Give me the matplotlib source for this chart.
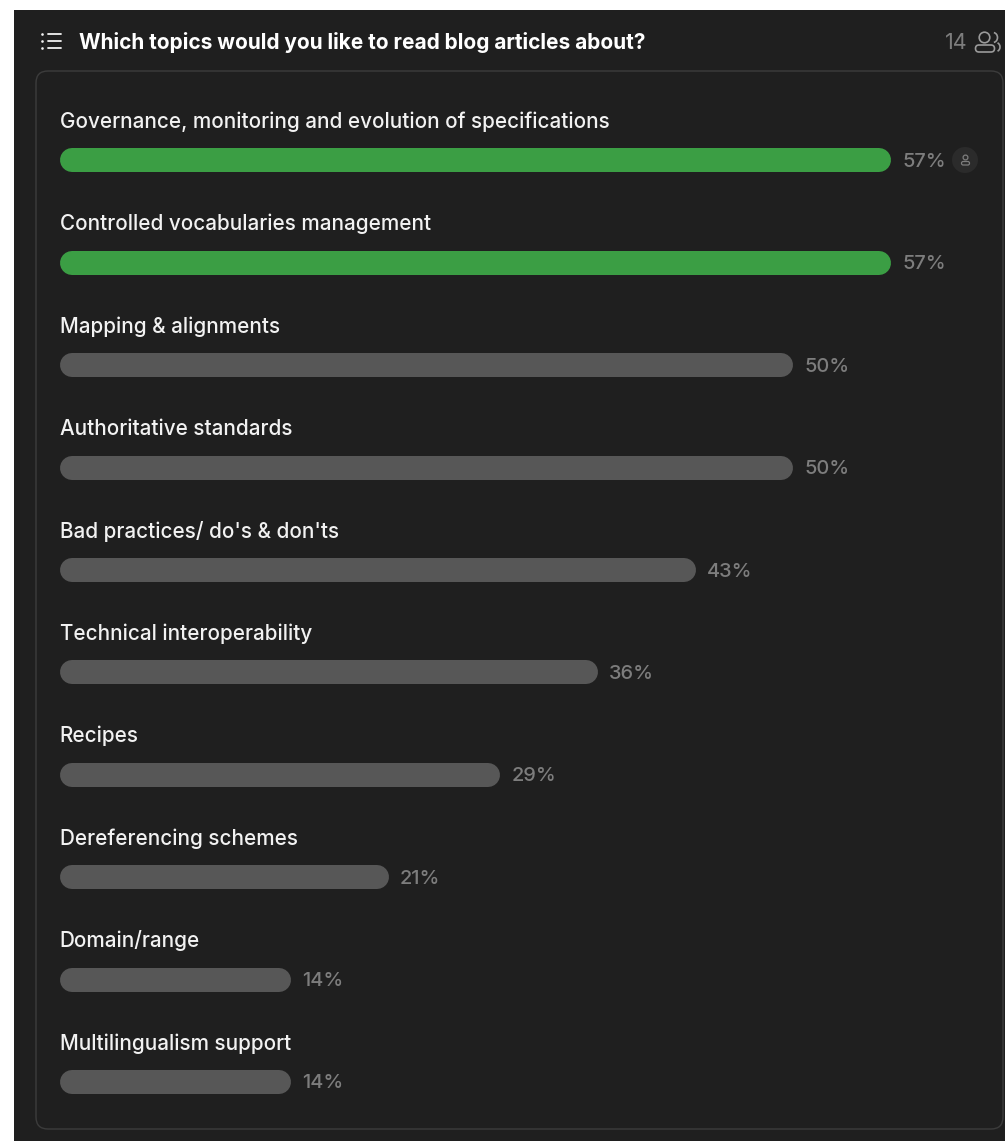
import matplotlib
matplotlib.use("Agg")
import matplotlib.pyplot as plt
from matplotlib.patches import Rectangle, FancyBboxPatch, Circle, Arc

plt.rcParams['font.family'] = ['Inter', 'DejaVu Sans']

title = "Which topics would you like to read blog articles about?"
topics = ["Governance, monitoring and evolution of specifications",
          "Controlled vocabularies management",
          "Mapping & alignments",
          "Authoritative standards",
          "Bad practices/ do's & don'ts",
          "Technical interoperability",
          "Recipes",
          "Dereferencing schemes",
          "Domain/range",
          "Multilingualism support"]
percent = [57, 57, 50, 50, 43, 36, 29, 21, 14, 14]
winners = [True, True, False, False, False, False, False, False, False, False]
responses = 14

BG = "#1f1f1f"
GREEN = "#3b9e44"
GREY = "#575757"
BORDER = "#3c3c3c"
TEXT = "#f2f2f2"
MUTED = "#7d7d7d"
ICON = "#9a9a9a"

W, H = 1005, 1141
fig = plt.figure(figsize=(W / 100, H / 100), dpi=100, facecolor="white")

# back layer works in image pixels, y going down
bg = fig.add_axes([0, 0, 1, 1])
bg.set_xlim(0, W)
bg.set_ylim(H, 0)
bg.axis("off")
bg.add_patch(Rectangle((14, 10), W - 14, H - 10, fc=BG, ec="none"))
bg.add_patch(FancyBboxPatch((36, 71), 967, 1058, boxstyle="round,pad=0,rounding_size=12",
                            fc=BG, ec=BORDER, lw=1))

# list icon
for y in [34, 41, 48]:
    bg.plot([47.5, 61], [y, y], color=TEXT, lw=1.3, solid_capstyle="round")
    bg.plot([41.5], [y], "o", color=TEXT, ms=1.9, mew=0)

bg.text(79, 40.5, title, color="#ffffff", fontsize=15.0, fontweight="bold", va="center_baseline")
bg.text(944.5, 41, str(responses), color=MUTED, fontsize=15.5, va="center_baseline")

# people icon, top right
bg.add_patch(Circle((984.5, 37.5), 5.3, fc="none", ec=ICON, lw=1.2))
bg.add_patch(FancyBboxPatch((975.5, 45), 19, 7, boxstyle="round,pad=0,rounding_size=3.5",
                            fc="none", ec=ICON, lw=1.2))
bg.add_patch(Arc((993, 37.5), 9, 10, theta1=-80, theta2=80, ec=ICON, lw=1.2))
bg.add_patch(Arc((996, 47), 8, 9, theta1=-70, theta2=70, ec=ICON, lw=1.2))

# bars: x axis in percent, same canvas
ax = fig.add_axes([0, 0, 1, 1], facecolor="none")
ax.set_xlim(-83.4 / 13.96, (W - 83.4) / 13.96)
ax.set_ylim(H, 0)
ax.axis("off")

bar_y = [160.3 + 102.4 * i for i in range(len(topics))]
for i, (name, p) in enumerate(zip(topics, percent)):
    c = GREEN if winners[i] else GREY
    ax.plot([-0.82, p], [bar_y[i], bar_y[i]], color=c, lw=17.28, solid_capstyle="round")
    ax.annotate(f"{p}%", (p, bar_y[i] - 0.4), xytext=(16.6, 0), textcoords="offset points",
                color=MUTED, fontsize=14.4, fontweight="medium", va="center_baseline", ha="left")
    bg.text(59.7, bar_y[i] - 40.6, name, color=TEXT, fontsize=14.88, fontweight="medium",
            va="center_baseline")

# voter badge beside the first bar
bg.add_patch(Circle((965, 160), 13, fc="#2b2b2b", ec="none"))
bg.add_patch(Circle((965.5, 157.5), 2.4, fc="none", ec=MUTED, lw=0.9))
bg.add_patch(FancyBboxPatch((961.5, 161.5), 8, 3.5, boxstyle="round,pad=0,rounding_size=1.7",
                            fc="none", ec=MUTED, lw=0.9))

fig.savefig("out.png", dpi=100)
